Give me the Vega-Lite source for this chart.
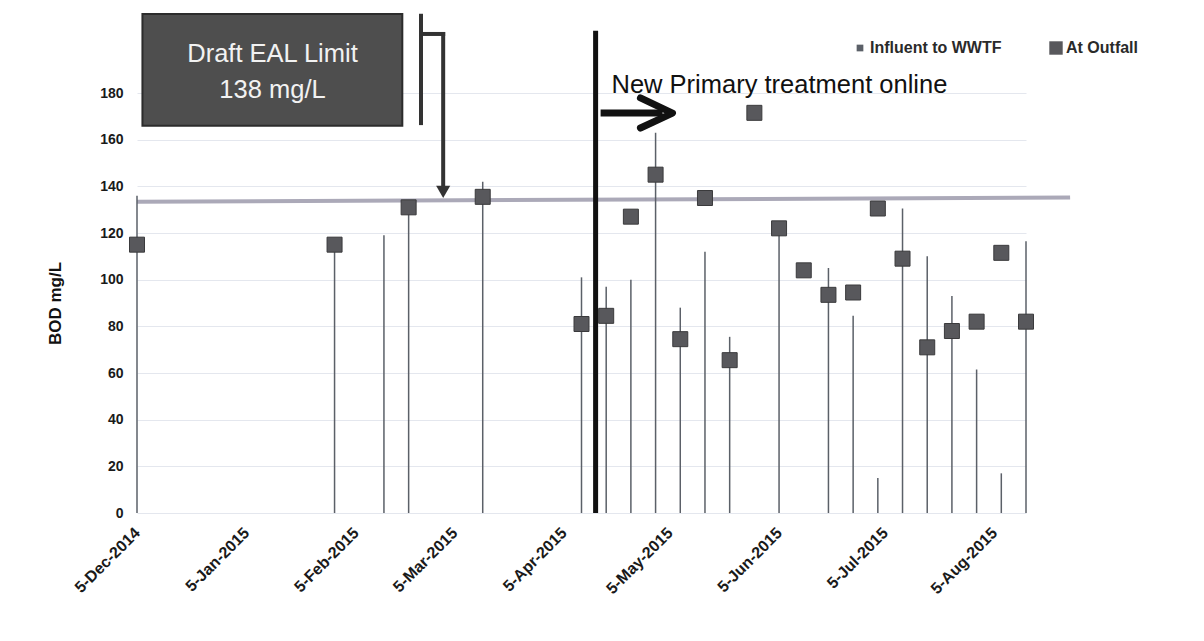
{
  "$schema": "https://vega.github.io/schema/vega-lite/v6.json",
  "width": 889,
  "height": 504,
  "autosize": {"type": "none"},
  "padding": {"left": 137, "top": 9, "right": 178, "bottom": 128},
  "background": "white",
  "config": {"font": "Liberation Sans", "view": {"stroke": null}},
  "datasets": {
    "bod": [
      {"d": "2014-12-05", "series": "Influent to WWTF", "v": 136},
      {"d": "2015-01-30", "series": "Influent to WWTF", "v": 116},
      {"d": "2015-02-13", "series": "Influent to WWTF", "v": 119},
      {"d": "2015-02-20", "series": "Influent to WWTF", "v": 128},
      {"d": "2015-03-13", "series": "Influent to WWTF", "v": 142},
      {"d": "2015-04-10", "series": "Influent to WWTF", "v": 101},
      {"d": "2015-04-17", "series": "Influent to WWTF", "v": 97},
      {"d": "2015-04-24", "series": "Influent to WWTF", "v": 100},
      {"d": "2015-05-01", "series": "Influent to WWTF", "v": 163},
      {"d": "2015-05-08", "series": "Influent to WWTF", "v": 88},
      {"d": "2015-05-15", "series": "Influent to WWTF", "v": 112},
      {"d": "2015-05-22", "series": "Influent to WWTF", "v": 75.5},
      {"d": "2015-06-05", "series": "Influent to WWTF", "v": 121},
      {"d": "2015-06-19", "series": "Influent to WWTF", "v": 105},
      {"d": "2015-06-26", "series": "Influent to WWTF", "v": 84.5},
      {"d": "2015-07-03", "series": "Influent to WWTF", "v": 15},
      {"d": "2015-07-10", "series": "Influent to WWTF", "v": 130.5},
      {"d": "2015-07-17", "series": "Influent to WWTF", "v": 110},
      {"d": "2015-07-24", "series": "Influent to WWTF", "v": 93},
      {"d": "2015-07-31", "series": "Influent to WWTF", "v": 61.5},
      {"d": "2015-08-07", "series": "Influent to WWTF", "v": 17},
      {"d": "2015-08-14", "series": "Influent to WWTF", "v": 116.5},
      {"d": "2014-12-05", "series": "At Outfall", "v": 115},
      {"d": "2015-01-30", "series": "At Outfall", "v": 115},
      {"d": "2015-02-20", "series": "At Outfall", "v": 131},
      {"d": "2015-03-13", "series": "At Outfall", "v": 135.5},
      {"d": "2015-04-10", "series": "At Outfall", "v": 81},
      {"d": "2015-04-17", "series": "At Outfall", "v": 84.5},
      {"d": "2015-04-24", "series": "At Outfall", "v": 127},
      {"d": "2015-05-01", "series": "At Outfall", "v": 145},
      {"d": "2015-05-08", "series": "At Outfall", "v": 74.5},
      {"d": "2015-05-15", "series": "At Outfall", "v": 135},
      {"d": "2015-05-22", "series": "At Outfall", "v": 65.5},
      {"d": "2015-05-29", "series": "At Outfall", "v": 171.5},
      {"d": "2015-06-05", "series": "At Outfall", "v": 122},
      {"d": "2015-06-12", "series": "At Outfall", "v": 104},
      {"d": "2015-06-19", "series": "At Outfall", "v": 93.5},
      {"d": "2015-06-26", "series": "At Outfall", "v": 94.5},
      {"d": "2015-07-03", "series": "At Outfall", "v": 130.5},
      {"d": "2015-07-10", "series": "At Outfall", "v": 109},
      {"d": "2015-07-17", "series": "At Outfall", "v": 71},
      {"d": "2015-07-24", "series": "At Outfall", "v": 78},
      {"d": "2015-07-31", "series": "At Outfall", "v": 82},
      {"d": "2015-08-07", "series": "At Outfall", "v": 111.5},
      {"d": "2015-08-14", "series": "At Outfall", "v": 82}
    ],
    "box": [{"d": "2014-12-06T13:00:00Z", "d2": "2015-02-18T05:00:00Z", "v": 213.9, "v2": 166}],
    "boxText": [
      {"d": "2015-01-12T10:00:00Z", "v": 193.2, "t": "Draft EAL Limit"},
      {"d": "2015-01-12T10:00:00Z", "v": 178.0, "t": "138 mg/L"}
    ],
    "limit": [{"d": "2014-12-05", "d2": "2015-08-26T12:00:00Z", "v": 133.4, "v2": 135.2}],
    "online": [{"d": "2015-04-14", "v": 0, "v2": 206.7}],
    "bracket": [
      {"d": "2015-02-23T12:00:00Z", "d2": "2015-02-23T12:00:00Z", "v": 213.1, "v2": 167.1},
      {"d": "2015-02-23T12:00:00Z", "d2": "2015-03-01T19:00:00Z", "v": 205.3, "v2": 205.3},
      {"d": "2015-03-01T19:00:00Z", "d2": "2015-03-01T19:00:00Z", "v": 205.3, "v2": 140}
    ],
    "head": [{"d": "2015-03-01T19:00:00Z", "v": 137.6}],
    "label": [{"d": "2015-04-18T12:00:00Z", "v": 180, "t": "New Primary treatment online"}],
    "shaft": [{"d": "2015-04-15T10:00:00Z", "d2": "2015-05-03T00:00:00Z", "v": 171.4, "v2": 171.4}],
    "chevron": [
      {"d": "2015-04-26T17:00:00Z", "v": 177.9, "o": 1},
      {"d": "2015-05-05T19:00:00Z", "v": 171.4, "o": 2},
      {"d": "2015-04-26T17:00:00Z", "v": 165.0, "o": 3}
    ]
  },
  "encoding": {
    "x": {
      "field": "d", "type": "temporal", "title": null,
      "scale": {"type": "utc", "domain": [{"year": 2014, "month": 12, "date": 5, "utc": true}, {"year": 2015, "month": 8, "date": 14, "utc": true}]},
      "axis": {
        "values": [
          {"year": 2014, "month": 12, "date": 5, "utc": true},
          {"year": 2015, "month": 1, "date": 5, "utc": true},
          {"year": 2015, "month": 2, "date": 5, "utc": true},
          {"year": 2015, "month": 3, "date": 5, "utc": true},
          {"year": 2015, "month": 4, "date": 5, "utc": true},
          {"year": 2015, "month": 5, "date": 5, "utc": true},
          {"year": 2015, "month": 6, "date": 5, "utc": true},
          {"year": 2015, "month": 7, "date": 5, "utc": true},
          {"year": 2015, "month": 8, "date": 5, "utc": true}
        ],
        "format": "%-d-%b-%Y",
        "labelAngle": -45, "labelAlign": "right", "labelBaseline": "middle",
        "labelPadding": 17, "labelFontSize": 16, "labelFontWeight": "bold", "labelColor": "#1a1a1a",
        "grid": false, "domain": false, "ticks": false, "labelOverlap": false
      }
    },
    "y": {
      "field": "v", "type": "quantitative", "title": "BOD mg/L",
      "scale": {"domain": [0, 216], "nice": false, "zero": true},
      "axis": {
        "values": [0, 20, 40, 60, 80, 100, 120, 140, 160, 180],
        "grid": true, "gridColor": "#e4e7ee", "gridWidth": 1,
        "domain": false, "ticks": false, "labelPadding": 14,
        "labelFontSize": 14, "labelFontWeight": "bold", "labelColor": "#1a1a1a",
        "titleFontSize": 17, "titleFontWeight": "bold", "titleColor": "#111",
        "titleX": -82, "titleY": 294, "titleAngle": -90, "titleAlign": "center", "titleBaseline": "middle"
      }
    }
  },
  "layer": [
    {
      "data": {"name": "box"},
      "mark": {"type": "rect", "fill": "#4e4e4e", "stroke": "#2c2c2c", "strokeWidth": 2},
      "encoding": {"x2": {"field": "d2"}, "y2": {"field": "v2"}}
    },
    {
      "data": {"name": "boxText"},
      "mark": {"type": "text", "align": "center", "baseline": "alphabetic", "fontSize": 25.5, "color": "#f2f2f2"},
      "encoding": {"text": {"field": "t"}}
    },
    {
      "data": {"name": "limit"},
      "mark": {"type": "rule", "stroke": "#aba9b8", "strokeWidth": 4},
      "encoding": {"x2": {"field": "d2"}, "y2": {"field": "v2"}}
    },
    {
      "data": {"name": "bod"},
      "transform": [{"filter": "datum.series === 'Influent to WWTF'"}],
      "mark": {"type": "rule", "strokeWidth": 1.5},
      "encoding": {
        "y2": {"datum": 0},
        "color": {
          "field": "series", "type": "nominal",
          "scale": {"domain": ["Influent to WWTF", "At Outfall"], "range": ["#5b6068", "#58585c"]},
          "legend": {
            "orient": "none", "legendX": 715, "legendY": 31, "direction": "horizontal",
            "title": null, "labelFontSize": 16, "labelFontWeight": "bold", "labelColor": "#2a2a2a",
            "columnPadding": 46, "labelOffset": 2, "symbolType": "square",
            "encode": {
              "symbols": {
                "update": {
                  "shape": {"value": "square"},
                  "size": {"signal": "datum.value === 'At Outfall' ? 180 : 45"},
                  "fill": {"signal": "datum.value === 'At Outfall' ? '#555558' : '#8c8c8c'"},
                  "stroke": {"value": "transparent"},
                  "strokeWidth": {"value": 0}
                }
              }
            }
          }
        }
      }
    },
    {
      "data": {"name": "bod"},
      "transform": [{"filter": "datum.series === 'At Outfall'"}],
      "mark": {"type": "point", "shape": "square", "filled": true, "size": 225, "stroke": "#3a3a3c", "strokeWidth": 1, "opacity": 1},
      "encoding": {"color": {"field": "series", "type": "nominal"}}
    },
    {
      "data": {"name": "online"},
      "mark": {"type": "rule", "stroke": "#111111", "strokeWidth": 5},
      "encoding": {"y2": {"field": "v2"}}
    },
    {
      "data": {"name": "bracket"},
      "mark": {"type": "rule", "stroke": "#333333", "strokeWidth": 4, "strokeCap": "square"},
      "encoding": {"x2": {"field": "d2"}, "y2": {"field": "v2"}}
    },
    {
      "data": {"name": "head"},
      "mark": {"type": "point", "shape": "triangle-down", "filled": true, "size": 200, "color": "#333333", "opacity": 1},
      "encoding": {}
    },
    {
      "data": {"name": "label"},
      "mark": {"type": "text", "align": "left", "baseline": "alphabetic", "fontSize": 25.5, "color": "#111111"},
      "encoding": {"text": {"field": "t"}}
    },
    {
      "data": {"name": "shaft"},
      "mark": {"type": "rule", "stroke": "#111111", "strokeWidth": 7, "strokeCap": "butt"},
      "encoding": {"x2": {"field": "d2"}, "y2": {"field": "v2"}}
    },
    {
      "data": {"name": "chevron"},
      "mark": {"type": "line", "stroke": "#111111", "strokeWidth": 7, "strokeCap": "round", "strokeJoin": "round"},
      "encoding": {"order": {"field": "o", "type": "quantitative"}}
    }
  ]
}
